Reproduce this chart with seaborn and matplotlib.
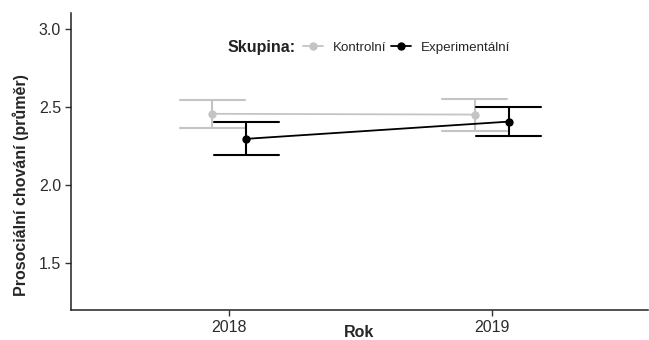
import pandas as pd
import numpy as np
import seaborn as sns
import matplotlib.pyplot as plt

# group means and interval ends
years = ['2018', '2019']
groups = ['Kontrolní', 'Experimentální']
kontrolni_mean = [2.455, 2.450]
kontrolni_low = [2.365, 2.345]
kontrolni_high = [2.545, 2.550]
experiment_mean = [2.295, 2.405]
experiment_low = [2.190, 2.310]
experiment_high = [2.400, 2.500]

# three rows per cell: median gives the mean, min/max give the interval
rows = []
for g, m, lo, hi in [(groups[0], kontrolni_mean, kontrolni_low, kontrolni_high),
                     (groups[1], experiment_mean, experiment_low, experiment_high)]:
    for i, yr in enumerate(years):
        for v in (lo[i], m[i], hi[i]):
            rows.append({'Rok': yr, 'Skupina': g, 'value': v})
df = pd.DataFrame(rows)

sns.set_style('ticks')
plt.rcParams['font.family'] = ['Liberation Sans', 'DejaVu Sans']

fig = plt.figure(figsize=(6.49, 3.40), dpi=100)
ax = fig.add_axes([0.109, 0.088, 0.889, 0.874])

palette = {'Kontrolní': '#c4c4c4', 'Experimentální': '#000000'}
sns.pointplot(data=df, x='Rok', y='value', hue='Skupina', hue_order=groups,
              estimator='median', errorbar=('pi', 100), dodge=0.13,
              capsize=0.25, palette=palette, markers='o', markersize=5,
              linewidth=1.3, err_kws={'linewidth': 1.5}, legend=False, ax=ax)

ax.set_ylim(1.2, 3.1)
ax.set_yticks([1.5, 2.0, 2.5, 3.0])
ax.set_yticklabels(['1.5', '2.0', '2.5', '3.0'])
ax.set_xlim(-0.605, 1.595)
ax.tick_params(axis='both', labelsize=11.5, colors='#333333', length=4, width=1)
ax.tick_params(axis='both', labelcolor='#2b2b2b', pad=3)
for s in ['left', 'bottom']:
    ax.spines[s].set_linewidth(1.1)
    ax.spines[s].set_color('#222222')
sns.despine(ax=ax)

ax.set_xlabel('Rok', fontsize=11.5, fontweight='bold')
ax.xaxis.set_label_coords(0.5, -0.077)
ax.xaxis.label.set_va('center')
ax.set_ylabel('Prosociální chování (průměr)', fontsize=11.5, fontweight='bold')
ax.yaxis.set_label_coords(-0.0865, 0.42)
ax.yaxis.label.set_va('center')

# legend in one row with a bold lead-in label
ax.text(0.271, 0.883, 'Skupina:', transform=ax.transAxes, fontsize=11.5,
        fontweight='bold', va='center', ha='left', color='#222222')
handles = [plt.Line2D([], [], color=palette[g], marker='o', markersize=5, linewidth=1.3)
           for g in groups]
ax.legend(handles, groups, ncol=2, frameon=False, fontsize=9.6,
          loc='center left', bbox_to_anchor=(0.402, 0.883),
          handlelength=1.5, handletextpad=0.75, columnspacing=0.35,
          borderaxespad=0, borderpad=0)

fig.savefig('out.png', dpi=100)
